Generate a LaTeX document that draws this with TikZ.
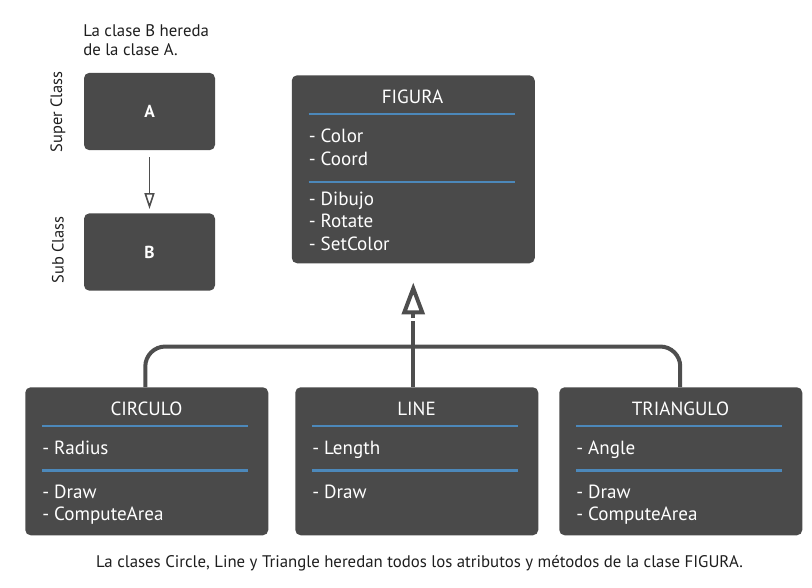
\documentclass[tikz,border=0pt]{standalone}
\usepackage{fontspec}
\setmainfont{PT Sans}
\usetikzlibrary{arrows.meta}
\definecolor{BoxGray}{RGB}{74,74,74}
\definecolor{RuleBlue}{RGB}{76,136,186}
\definecolor{LinkGray}{RGB}{78,78,78}
\definecolor{TextDark}{RGB}{30,30,30}

\begin{document}
\begin{tikzpicture}[x=0.75pt,y=-0.75pt,
        classbox/.style={fill=BoxGray, rounded corners=4pt, inner sep=0pt,
                minimum width=182.25pt},
        smallbox/.style={fill=BoxGray, rounded corners=4pt, inner sep=0pt,
                minimum width=98.25pt, minimum height=58pt,
                text=white, font=\fontsize{13}{15}\selectfont\bfseries},
        classname/.style={text=white, anchor=base, inner sep=0pt,
                font=\fontsize{14.3}{17}\selectfont},
        member/.style={text=white, anchor=base west, inner sep=0pt,
                font=\fontsize{14.3}{17}\selectfont},
        rule/.style={RuleBlue, line width=1.6pt},
        note/.style={text=TextDark, inner sep=0pt,
                font=\fontsize{12.6}{15}\selectfont}]
        \useasboundingbox (0,0) rectangle (812,587);
        % left: A and B
        \node[note, anchor=base west] (noteA) at (83,36.7) {La clase B hereda};
        \node[note, anchor=base west] (noteB) at (83,55.7) {de la clase A.};
        \node[smallbox] (clsA) at (149.5,111.5) {A};
        \node[smallbox] (clsB) at (149.5,252) {B};
        \node[note, rotate=90, font=\fontsize{12.3}{14}\selectfont] (superlbl) at (58,112) {Super Class};
        \node[note, rotate=90, font=\fontsize{12.3}{14}\selectfont] (sublbl) at (58,250) {Sub Class};
        \draw[LinkGray, line width=1.2pt,
                -{Triangle[open, length=12pt, width=7.5pt]}]
                ([yshift=-5pt]clsA.south) -- ([yshift=3pt]clsB.north);
        % FIGURA
        \node[classbox, minimum height=141pt, anchor=north west] (figura) at (291.5,75) {};
        \node[classname] (figura-t) at (412.5,103.3) {FIGURA};
        \draw[rule] (308.5,114) -- (515,114);
        \draw[rule] (308.5,182) -- (515,182);
        \foreach \m [count=\k] in {Color,Coord}
                \node[member] (figura-a\k) at (308.5,{142.7+23*(\k-1)}) {- \m};
        \foreach \m [count=\k] in {Dibujo,Rotate,SetColor}
                \node[member] (figura-m\k) at (308.5,{205+22.5*(\k-1)}) {- \m};
        % subclasses
        \foreach \cx/\nm/\ttl/\attr/\meth in {25/circulo/CIRCULO/Radius/{Draw,ComputeArea},
                        295/line/LINE/Length/{Draw},
                        559/triangulo/TRIANGULO/Angle/{Draw,ComputeArea}} {
                \node[classbox, minimum height=111pt, anchor=north west] (\nm) at (\cx,387) {};
                \node[classname] (\nm-t) at (\cx+121.5,415) {\ttl};
                \draw[rule] (\cx+17,426) -- (\cx+223,426);
                \draw[rule] (\cx+17,470.5) -- (\cx+223,470.5);
                \node[member] (\nm-a) at (\cx+17,454) {- \attr};
                \foreach \m [count=\k] in \meth
                        \node[member] (\nm-m\k) at (\cx+17,{498.3+21.7*(\k-1)}) {- \m};
        }
        % inheritance links
        \draw[LinkGray, line width=3pt, rounded corners=15pt]
                ([xshift=-1.1pt]circulo.north) -- ++(0,-40.5) -| ([xshift=-0.4pt]triangulo.north);
        \draw[LinkGray, line width=3pt]
                (figura.south |- line.north) -- ([yshift=-3pt]figura.south |- 0,316.7);
        \draw[LinkGray, line width=3pt,
                -{Triangle[open, length=24pt, width=17pt]}]
                ([yshift=-1pt]figura.south |- 0,316.7) -- ([yshift=-14.2pt]figura.south);
        \node[note, anchor=base] (caption) at (419.5,567)
                {La clases Circle, Line y Triangle heredan todos los atributos y métodos de la clase FIGURA.};
\end{tikzpicture}
\end{document}
